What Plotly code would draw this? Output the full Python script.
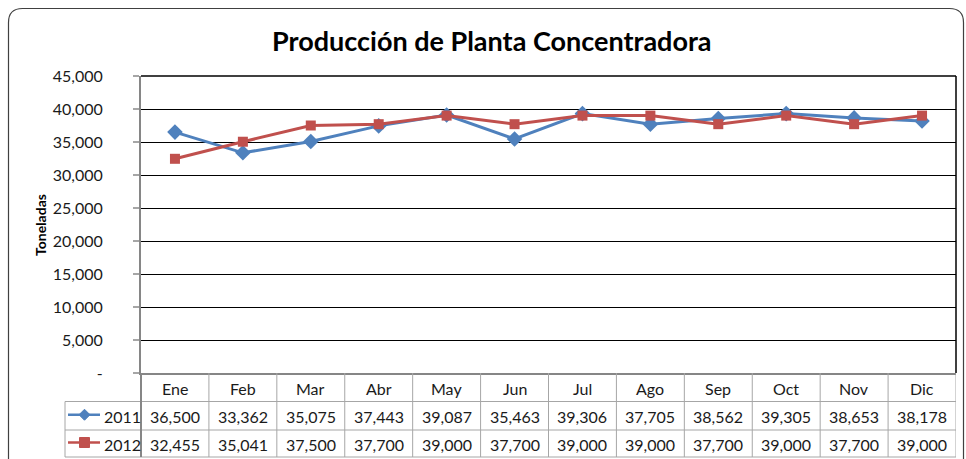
import plotly.graph_objects as go

months = ["Ene", "Feb", "Mar", "Abr", "May", "Jun", "Jul", "Ago", "Sep", "Oct", "Nov", "Dic"]
series_names = ["2011", "2012"]
values_2011 = [36500, 33362, 35075, 37443, 39087, 35463, 39306, 37705, 38562, 39305, 38653, 38178]
values_2012 = [32455, 35041, 37500, 37700, 39000, 37700, 39000, 39000, 37700, 39000, 37700, 39000]
y_ticks = [0, 5000, 10000, 15000, 20000, 25000, 30000, 35000, 40000, 45000]
y_ticktext = ["-" if v == 0 else f"{v:,}" for v in y_ticks]

W, H = 966, 459
FONT = "Lato"
BLUE = "#4F81BD"
RED = "#C0504D"
GRID_GRAY = "#A6A6A6"
AXIS_GRAY = "#868686"
TXT = "#1a1a1a"

# layout geometry (pixels)
PL, PR, PT, PB = 141.0, 956.0, 76.0, 373.0
ROWS = [373.0, 401.5, 430.0, 457.0]
LEG_L = 65.0


def px(x):
    return x / W


def py(y):
    return 1 - y / H


xs = list(range(len(months)))
fig = go.Figure()
fig.add_trace(go.Scatter(
    x=xs, y=values_2011, name=series_names[0], mode="lines+markers",
    line=dict(color=BLUE, width=3),
    marker=dict(symbol="diamond", size=12, color=BLUE),
))
fig.add_trace(go.Scatter(
    x=xs, y=values_2012, name=series_names[1], mode="lines+markers",
    line=dict(color=RED, width=3),
    marker=dict(symbol="square", size=10, color=RED),
))

shapes = []
annotations = []

# outer rounded frame
r = 14
x0, y0, x1, y1 = 8.5, 8.5, 963.5, 462
path = (f"M {px(x0)},{py(y1)} L {px(x0)},{py(y0 + r)} Q {px(x0)},{py(y0)} {px(x0 + r)},{py(y0)} "
        f"L {px(x1 - r)},{py(y0)} Q {px(x1)},{py(y0)} {px(x1)},{py(y0 + r)} L {px(x1)},{py(y1)}")
shapes.append(dict(type="path", path=path, xref="paper", yref="paper",
                   line=dict(color="#404040", width=1.2)))

# plot area top & right borders
shapes.append(dict(type="line", xref="paper", yref="paper", x0=px(PL), x1=px(PR), y0=py(PT), y1=py(PT),
                   line=dict(color="black", width=1.5)))
shapes.append(dict(type="line", xref="paper", yref="paper", x0=px(PR), x1=px(PR), y0=py(PT), y1=py(PB),
                   line=dict(color="black", width=1.5)))

# data table grid
for yy in ROWS[1:]:
    shapes.append(dict(type="line", xref="paper", yref="paper", x0=px(LEG_L), x1=px(PR), y0=py(yy), y1=py(yy),
                       line=dict(color=GRID_GRAY, width=1)))
for k in range(1, len(months) + 1):
    shapes.append(dict(type="line", xref="x", yref="paper", x0=k - 0.5, x1=k - 0.5,
                       y0=py(ROWS[0]), y1=py(ROWS[-1]), line=dict(color=GRID_GRAY, width=1)))
shapes.append(dict(type="line", xref="paper", yref="paper", x0=px(PL), x1=px(PL),
                   y0=py(ROWS[0]), y1=py(ROWS[-1]), line=dict(color=AXIS_GRAY, width=2)))
shapes.append(dict(type="line", xref="paper", yref="paper", x0=px(LEG_L), x1=px(LEG_L),
                   y0=py(ROWS[1]), y1=py(ROWS[-1]), line=dict(color=GRID_GRAY, width=1)))


def ann(x, y, text, xref="paper", size=16, xanchor="center", bold=False, angle=0, color=TXT):
    annotations.append(dict(x=x, y=y, xref=xref, yref="paper", text=f"<b>{text}</b>" if bold else text,
                            showarrow=False, xanchor=xanchor, yanchor="middle", textangle=angle,
                            font=dict(family=FONT, size=size, color=color)))


# header labels
hy = (ROWS[0] + ROWS[1]) / 2 + 1
for i, m in enumerate(months):
    ann(i, py(hy), m, xref="x")

# value rows + legend keys
series = [(values_2011, BLUE, "diamond"), (values_2012, RED, "square")]
for r_i, (vals, col, sym) in enumerate(series):
    cy = (ROWS[r_i + 1] + ROWS[r_i + 2]) / 2 + 0.5
    for i, v in enumerate(vals):
        ann(i, py(cy), f"{v:,}", xref="x")
    ly = cy - 1.5
    shapes.append(dict(type="line", xref="paper", yref="paper", x0=px(68), x1=px(100), y0=py(ly), y1=py(ly),
                       line=dict(color=col, width=2.5)))
    cx = 84.5
    if sym == "diamond":
        d = 5.5
        p = (f"M {px(cx)},{py(ly - d)} L {px(cx + d)},{py(ly)} L {px(cx)},{py(ly + d)} "
             f"L {px(cx - d)},{py(ly)} Z")
        shapes.append(dict(type="path", path=p, xref="paper", yref="paper", fillcolor=col,
                           line=dict(color=col, width=1)))
    else:
        d = 5
        shapes.append(dict(type="rect", xref="paper", yref="paper", x0=px(cx - d), x1=px(cx + d),
                           y0=py(ly + d), y1=py(ly - d), fillcolor=col, line=dict(color=col, width=1)))
    ann(px(102), py(cy), series_names[r_i], xanchor="left")

# title and y-axis title
ann(px(492), py(41), "Producción de Planta Concentradora", size=27, bold=True, color="black")
ann(px(40), py(225), "Toneladas", size=14, bold=True, angle=-90, color="black")

fig.update_layout(
    width=W, height=H,
    margin=dict(l=0, r=0, t=0, b=0, autoexpand=False),
    paper_bgcolor="white", plot_bgcolor="white",
    showlegend=False,
    shapes=shapes, annotations=annotations,
    xaxis=dict(domain=[px(PL), px(PR)], range=[-0.5, len(months) - 0.5], showticklabels=False,
               showgrid=False, zeroline=False, showline=True, linecolor=AXIS_GRAY, linewidth=1.5,
               fixedrange=True, automargin=False),
    yaxis=dict(domain=[py(PB), py(PT)], range=[0, 45000], tickvals=y_ticks, ticktext=y_ticktext,
               showgrid=True, gridcolor="black", gridwidth=1, zeroline=False,
               showline=True, linecolor=AXIS_GRAY, linewidth=2,
               ticks="outside", ticklen=6, tickcolor=GRID_GRAY, tickwidth=1.5, automargin=False,
               ticklabelstandoff=27,
               tickfont=dict(family=FONT, size=16, color=TXT), fixedrange=True),
)

fig.write_html("out.html", config={"displayModeBar": False},
               post_script="document.body.style.margin='0';document.body.style.overflow='hidden';")
